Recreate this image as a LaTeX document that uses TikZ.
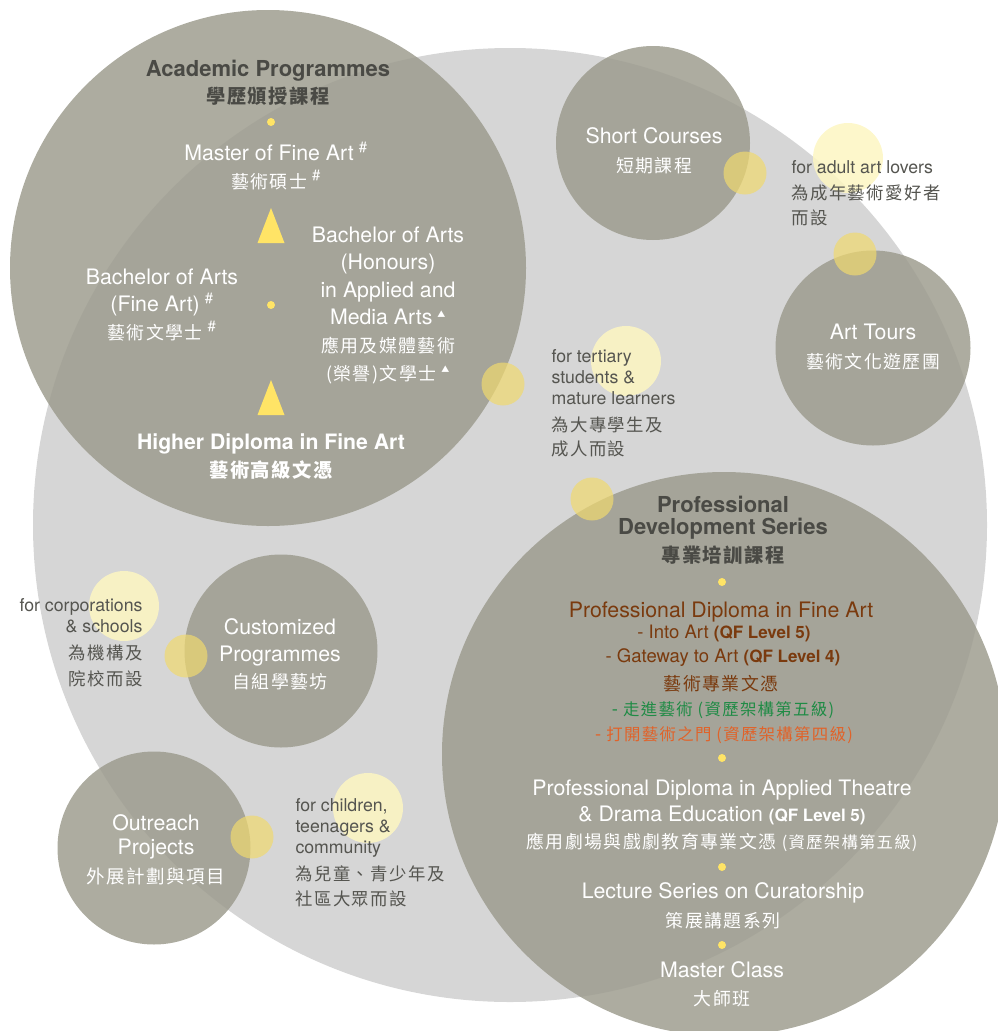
\documentclass[tikz,border=0pt]{standalone}
\usepackage{fontspec}
\setmainfont{TeX Gyre Heros}
\newfontfamily\cjk[LetterSpace=8]{Noto Sans CJK TC}
\usetikzlibrary{positioning}
\definecolor{mist}{HTML}{D6D6D6}
\definecolor{stone}{RGB}{156,155,141}
\definecolor{honey}{RGB}{240,217,111}
\definecolor{cream}{RGB}{253,246,194}
\definecolor{lemon}{HTML}{FFE466}
\definecolor{charcoal}{HTML}{4A4A45}
\definecolor{slate}{HTML}{555550}
\definecolor{rust}{HTML}{7A3A0E}
\definecolor{leaf}{HTML}{1F8B45}
\definecolor{ember}{HTML}{E0632A}
\newcommand{\zh}[2][17.9]{{\cjk\fontsize{#1}{\the\baselineskip}\selectfont #2}}
\newcommand{\hashmark}{\hspace{5pt}\textsuperscript{\#}}
\newcommand{\trimark}{\hspace{5pt}\textsuperscript{\zh[8]{▲}}}
\newcommand{\qf}[1]{{\fontsize{17}{20}\selectfont\bfseries(QF Level #1)}}

\begin{document}
\begin{tikzpicture}[
  x=1pt, y=-1pt,
  backdrop/.style={circle, fill=mist, inner sep=0pt, minimum size=#1},
  stream/.style={circle, fill=stone, fill opacity=0.83, inner sep=0pt, minimum size=#1},
  link/.style={circle, fill=honey, fill opacity=0.7, inner sep=0pt, minimum size=43pt},
  halo/.style={circle, fill=cream, fill opacity=0.85, inner sep=0pt, minimum size=70pt},
  pip/.style={circle, fill=lemon, inner sep=0pt, minimum size=8pt},
  rung/.style={fill=lemon},
  title/.style={anchor=base, align=center, text=charcoal, font=\fontsize{22}{#1}\selectfont\bfseries},
  title/.default=27,
  course/.style={anchor=base, align=center, text=white, font=\fontsize{21.3}{#1}\selectfont},
  course/.default=27.5,
  lead/.style={course=28, font=\fontsize{21.2}{28}\selectfont\bfseries},
  note/.style={anchor=base west, align=left, text=slate, font=\fontsize{17.7}{21}\selectfont},
  pdline/.style={anchor=base, text=#1, font=\fontsize{18.5}{20}\selectfont},
]

\useasboundingbox (0,0) rectangle (998,1031);
\clip (0,0) rectangle (998,1031);

% =============================================
% Circles
% =============================================
\node[backdrop=954pt] (field) at (510,525) {};

\node[stream=516pt] (acad) at (268,268) {};
\node[stream=194pt] (short) at (653,143) {};
\node[stream=195pt] (tours) at (873,348) {};
\node[stream=193pt] (custom) at (281,651) {};
\node[stream=193pt] (outreach) at (154,848) {};
\node[stream=564pt] (pds) at (724,754) {};

% pale halos behind the notes
\node[halo] (h1) at (848,158) {};
\node[halo] (h2) at (626,361) {};
\node[halo] (h3) at (124,606) {};
\node[halo] (h4) at (368,808) {};

% yellow joints on the rims
\node[link] (j1) at (745,173) {};
\node[link] (j2) at (855,254) {};
\node[link] (j3) at (503,384) {};
\node[link] (j4) at (592,499) {};
\node[link] (j5) at (186,656) {};
\node[link] (j6) at (252,837) {};

% =============================================
% Academic Programmes (y = baseline of last line)
% =============================================
\node[title] (acadhead) at (268,103) {Academic Programmes\\\zh[19.3]{學歷頒授課程}};
\node[pip] (a1) at (271,122) {};

\node[course=28] (mfa) at (276,188) {Master of Fine Art\hashmark\\\zh{藝術碩士}\hashmark};

\fill[rung] (271,208) -- (284.5,243) -- (257.5,243) -- cycle;

\node[course] (bafa) at (162,339)
  {Bachelor of Arts\\(Fine Art)\hashmark\\\zh{藝術文學士}\hashmark};
\node[pip] (a2) at (271,305) {};
\node[course=27.6] (bahons) at (388,380)
  {Bachelor of Arts\\(Honours)\\in Applied and\\Media Arts\trimark\\\zh{應用及媒體藝術}\\\zh{(榮譽)文學士}\trimark};

\fill[rung] (271,380) -- (284.5,415) -- (257.5,415) -- cycle;

\node[lead] (hdfa) at (271,477) {Higher Diploma in Fine Art\\\zh[19.3]{藝術高級文憑}};

% =============================================
% Short Courses and Art Tours
% =============================================
\node[course=29] (scname) at (654,172) {Short Courses\\\zh{短期課程}};
\node[note] (adultnote) at (788,224)
  {for adult art lovers\\[5pt]\zh[17.4]{為成年藝術愛好者}\\[4pt]\zh[17.4]{而設}};

\node[course=29] (atname) at (873,368) {Art Tours\\\zh{藝術文化遊歷團}};

% =============================================
% Notes in the middle
% =============================================
\node[note] (tertnote) at (548,455)
  {for tertiary\\students \&\\mature learners\\[6pt]\zh[17.4]{為大專學生及}\\[3pt]\zh[17.4]{成人而設}};

% =============================================
% Customized Programmes and Outreach Projects
% =============================================
\node[course=27] (cpname) at (280,688) {Customized\\Programmes\\\zh{自組學藝坊}};
\node[note, anchor=base east, align=right] (corpnote) at (146,685)
  {for corporations\\\& schools\\[6pt]\zh[17.4]{為機構及}\\[5pt]\zh[17.4]{院校而設}};

\node[course=23.5] (opname) at (156,883) {Outreach\\Projects\\[5.5pt]\zh[18.5]{外展計劃與項目}};
\node[note] (kidnote) at (292,905)
  {for children,\\teenagers \&\\community\\[6pt]\zh[17.4]{為兒童、青少年及}\\[4pt]\zh[17.4]{社區大眾而設}};

% =============================================
% Professional Development Series
% =============================================
\node[title=21.5] (pdshead) at (723,562) {Professional\\Development Series\\[6.5pt]\zh[19.3]{專業培訓課程}};
\node[pip] (p1) at (722,582) {};

\node[pdline=rust, font=\fontsize{21.3}{24}\selectfont] (pdfa) at (721,617) {Professional Diploma in Fine Art};
\node[pdline=rust] (intoart) at (724,638) {- Into Art \qf{5}};
\node[pdline=rust] (gateway) at (723,662) {- Gateway to Art \qf{4}};
\node[pdline=rust] (pdfazh) at (721,690) {\zh{藝術專業文憑}};
\node[pdline=leaf] (intozh) at (723,715) {- \zh[16.4]{走進藝術 (資歷架構第五級)}};
\node[pdline=ember] (gatezh) at (724,740) {- \zh[16.4]{打開藝術之門 (資歷架構第四級)}};

\node[pip] (p2) at (722,758) {};
\node[course=26.5] (pdat) at (722,848)
  {Professional Diploma in Applied Theatre\\\& Drama Education \qf{5}\\\zh{應用劇場與戲劇教育專業文憑 \zh[16.3]{(資歷架構第五級)}}};

\node[pip] (p3) at (722,867) {};
\node[course=29] (lsc) at (723,927) {Lecture Series on Curatorship\\\zh{策展講題系列}};

\node[pip] (p4) at (722,945) {};
\node[course=28] (mcl) at (722,1005) {Master Class\\\zh{大師班}};

\end{tikzpicture}
\end{document}
